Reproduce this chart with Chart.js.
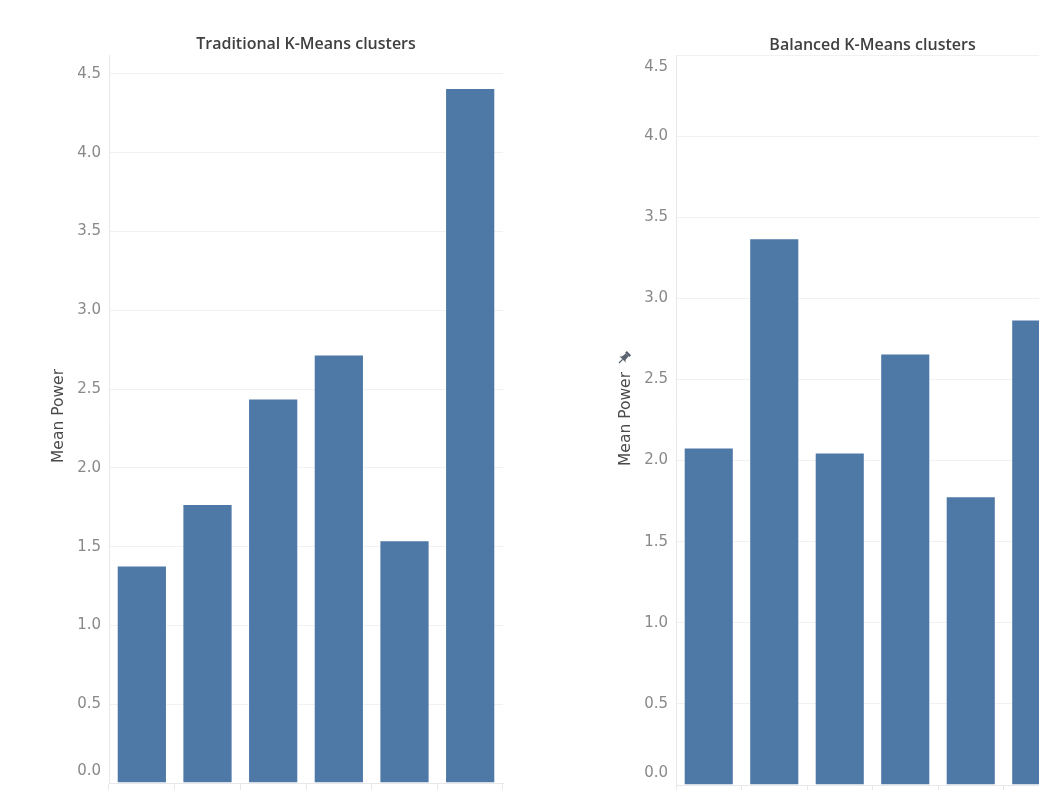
<!DOCTYPE html>
<html>
<head>
<meta charset="utf-8">
<title>Mean Power by cluster</title>
<script src="https://cdn.jsdelivr.net/npm/chart.js@4.4.1/dist/chart.umd.min.js"></script>
<style>
  html, body { margin: 0; padding: 0; background: #ffffff; overflow: hidden; }
  body { width: 1039px; height: 790px; position: relative; }
  canvas { position: absolute; top: 0; }
  #traditional { left: 0; }
  #balanced { left: 560px; }
</style>
</head>
<body>
<canvas id="traditional" width="520" height="790"></canvas>
<canvas id="balanced" width="530" height="790"></canvas>
<script>
// Cluster categories and mean power per cluster
const clusters = ["Cluster 1", "Cluster 2", "Cluster 3", "Cluster 4", "Cluster 5", "Cluster 6"];
const traditionalMeanPower = [1.38, 1.77, 2.44, 2.72, 1.54, 4.41];
const balancedMeanPower = [2.08, 3.37, 2.05, 2.66, 1.78, 2.87];
const yTickValues = [0, 0.5, 1.0, 1.5, 2.0, 2.5, 3.0, 3.5, 4.0, 4.5];

const BAR_COLOR = "#4e79a7";
const GRID_COLOR = "#f1f1f1";
const AXIS_COLOR = "#e8e8e8";
const TICK_COLOR = "#898989";
const TEXT_COLOR = "#4a4a4a";

// Draws the pin glyph shown beside a pinned axis title
function drawPin(ctx, cx, cy) {
  ctx.save();
  ctx.translate(cx, cy);
  ctx.rotate(Math.PI / 4);
  ctx.fillStyle = "#5a6270";
  ctx.strokeStyle = "#5a6270";
  ctx.fillRect(-3, -7, 6, 2.5);
  ctx.beginPath();
  ctx.moveTo(-2, -4.5);
  ctx.lineTo(2, -4.5);
  ctx.lineTo(2.5, 0.5);
  ctx.lineTo(4.5, 2);
  ctx.lineTo(-4.5, 2);
  ctx.lineTo(-2.5, 0.5);
  ctx.closePath();
  ctx.fill();
  ctx.lineWidth = 1.3;
  ctx.beginPath();
  ctx.moveTo(0, 2);
  ctx.lineTo(0, 7);
  ctx.stroke();
  ctx.restore();
}

// Title, y tick labels and axis title drawn over the library's chart area
const decorations = {
  id: "decorations",
  afterDraw(chart, args, opts) {
    const ctx = chart.ctx;
    const area = chart.chartArea;
    const y = chart.scales.y;
    ctx.save();

    ctx.font = '600 16px "Open Sans"';
    ctx.fillStyle = "#404040";
    ctx.textAlign = "center";
    ctx.textBaseline = "middle";
    ctx.fillText(opts.title, (area.left + area.right) / 2, opts.titleY);

    ctx.font = '15px "DejaVu Sans"';
    ctx.fillStyle = TICK_COLOR;
    ctx.textAlign = "right";
    yTickValues.forEach(v => {
      let py = y.getPixelForValue(v);
      py = Math.min(Math.max(py, area.top + 12), area.bottom - 12);
      ctx.fillText(v.toFixed(1), area.left - 8, py);
    });

    ctx.save();
    ctx.translate(opts.axisTitleX, opts.axisTitleY);
    ctx.rotate(-Math.PI / 2);
    ctx.font = '15.5px "DejaVu Sans"';
    ctx.fillStyle = TEXT_COLOR;
    ctx.textAlign = "center";
    ctx.textBaseline = "middle";
    ctx.fillText("Mean Power", 0, 0);
    ctx.restore();

    if (opts.pin) drawPin(ctx, opts.axisTitleX - 2, opts.axisTitleY - 61);
    ctx.restore();
  }
};

function makeChart(id, values, cfg) {
  return new Chart(document.getElementById(id), {
    type: "bar",
    data: {
      labels: clusters,
      datasets: [{
        data: values,
        backgroundColor: BAR_COLOR,
        borderColor: "rgba(255,255,255,0.4)",
        borderWidth: 1,
        categoryPercentage: 1.0,
        barPercentage: 0.765
      }]
    },
    plugins: [decorations],
    options: {
      responsive: false,
      animation: false,
      layout: { padding: { top: 55, right: cfg.padRight, left: 0, bottom: 0 } },
      plugins: {
        legend: { display: false },
        tooltip: { enabled: false },
        decorations: cfg.deco
      },
      scales: {
        x: {
          ticks: { display: false },
          grid: { offset: true, drawOnChartArea: false, drawTicks: true, tickLength: cfg.tickLength, color: AXIS_COLOR },
          border: { color: AXIS_COLOR }
        },
        y: {
          min: 0,
          max: cfg.yMax,
          afterBuildTicks: s => { s.ticks = yTickValues.map(v => ({ value: v })); },
          afterFit: s => { s.width = cfg.axisWidth; },
          ticks: { display: false },
          grid: { color: GRID_COLOR, drawTicks: false },
          border: { color: AXIS_COLOR }
        }
      }
    }
  });
}

makeChart("traditional", traditionalMeanPower, {
  padRight: 17, axisWidth: 109, tickLength: 7, yMax: 4.62,
  deco: { title: "Traditional K-Means clusters", titleY: 44, axisTitleX: 59, axisTitleY: 416, pin: false }
});

makeChart("balanced", balancedMeanPower, {
  padRight: 21, axisWidth: 116, tickLength: 5, yMax: 4.5,
  deco: { title: "Balanced K-Means clusters", titleY: 45, axisTitleX: 66, axisTitleY: 419, pin: true }
});
</script>
</body>
</html>
